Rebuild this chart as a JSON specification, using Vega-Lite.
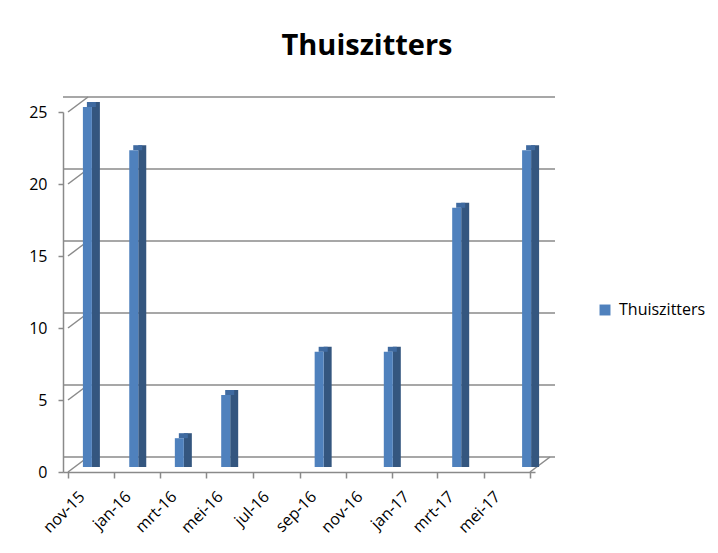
{
  "$schema": "https://vega.github.io/schema/vega-lite/v6.json",
  "width": 472,
  "height": 360,
  "autosize": {"type": "none"},
  "padding": {"left": 63, "top": 112, "right": 183, "bottom": 81},
  "background": "white",
  "config": {"view": {"stroke": null}, "font": "Open Sans"},
  "title": {
    "text": "Thuiszitters",
    "font": "Open Sans",
    "fontSize": 29,
    "fontWeight": "bold",
    "color": "#000000",
    "anchor": "middle",
    "dx": 68,
    "offset": 35
  },
  "datasets": {
    "maanden": [
      {"maand": "2015-11-16", "aantal": 25},
      {"maand": "2016-01-16", "aantal": 22},
      {"maand": "2016-03-16", "aantal": 2},
      {"maand": "2016-05-16", "aantal": 5},
      {"maand": "2016-09-16", "aantal": 8},
      {"maand": "2016-12-16", "aantal": 8},
      {"maand": "2017-03-16", "aantal": 18},
      {"maand": "2017-06-16", "aantal": 22}
    ],
    "raster": [
      {"waarde": 0}, {"waarde": 5}, {"waarde": 10},
      {"waarde": 15}, {"waarde": 20}, {"waarde": 25}
    ]
  },
  "layer": [
    {
      "data": {"name": "raster"},
      "mark": {"type": "rule", "color": "#8a8a8a", "strokeWidth": 1.5, "xOffset": 20, "yOffset": -15},
      "encoding": {
        "y": {"field": "waarde", "type": "quantitative", "title": null, "scale": {"domain": [0, 25], "nice": false}}
      }
    },
    {
      "data": {"name": "raster"},
      "mark": {"type": "rule", "color": "#8a8a8a", "strokeWidth": 1.5, "x2Offset": 20, "y2Offset": -15},
      "encoding": {
        "x": {"datum": {"year": 2015, "month": 11, "date": 1, "utc": true}, "type": "temporal", "title": null},
        "x2": {"datum": {"year": 2015, "month": 11, "date": 1, "utc": true}},
        "y": {"field": "waarde", "type": "quantitative", "title": null},
        "y2": {"field": "waarde"}
      }
    },
    {
      "data": {"name": "raster"},
      "transform": [{"filter": "datum.waarde == 0"}],
      "mark": {"type": "rule", "color": "#8a8a8a", "strokeWidth": 1.5, "x2Offset": 20, "y2Offset": -15},
      "encoding": {
        "x": {"datum": {"year": 2017, "month": 7, "date": 1, "utc": true}, "type": "temporal", "title": null},
        "x2": {"datum": {"year": 2017, "month": 7, "date": 1, "utc": true}},
        "y": {"field": "waarde", "type": "quantitative", "title": null},
        "y2": {"field": "waarde"}
      }
    },
    {
      "data": {"name": "maanden"},
      "mark": {"type": "bar", "size": 8, "color": "#34567f", "xOffset": 16.5, "yOffset": -10, "y2Offset": -5},
      "encoding": {
        "x": {"field": "maand", "type": "temporal", "title": null},
        "y": {"field": "aantal", "type": "quantitative", "title": null},
        "y2": {"datum": 0}
      }
    },
    {
      "data": {"name": "maanden"},
      "mark": {"type": "bar", "size": 9, "color": "#3f6aa0", "xOffset": 12, "yOffset": -10, "y2Offset": -5},
      "encoding": {
        "x": {"field": "maand", "type": "temporal", "title": null},
        "y": {"field": "aantal", "type": "quantitative", "title": null},
        "y2": {"field": "aantal"}
      }
    },
    {
      "data": {"name": "maanden"},
      "mark": {"type": "bar", "size": 9, "xOffset": 8, "yOffset": -5, "y2Offset": -5},
      "encoding": {
        "x": {
          "field": "maand",
          "type": "temporal",
          "title": null,
          "scale": {
            "type": "utc",
            "domain": [
              {"year": 2015, "month": 11, "date": 1, "utc": true},
              {"year": 2017, "month": 7, "date": 1, "utc": true}
            ]
          },
          "axis": {
            "title": null,
            "values": [
              {"year": 2015, "month": 11, "date": 1, "utc": true},
              {"year": 2016, "month": 1, "date": 1, "utc": true},
              {"year": 2016, "month": 3, "date": 1, "utc": true},
              {"year": 2016, "month": 5, "date": 1, "utc": true},
              {"year": 2016, "month": 7, "date": 1, "utc": true},
              {"year": 2016, "month": 9, "date": 1, "utc": true},
              {"year": 2016, "month": 11, "date": 1, "utc": true},
              {"year": 2017, "month": 1, "date": 1, "utc": true},
              {"year": 2017, "month": 3, "date": 1, "utc": true},
              {"year": 2017, "month": 5, "date": 1, "utc": true},
              {"year": 2017, "month": 7, "date": 1, "utc": true}
            ],
            "labelExpr": "(utcyear(datum.value) == 2017 && utcmonth(datum.value) == 6) ? '' : ['jan','feb','mrt','apr','mei','jun','jul','aug','sep','okt','nov','dec'][utcmonth(datum.value)] + '-' + utcFormat(datum.value, '%y')",
            "labelAngle": -45,
            "labelFontSize": 16,
            "labelColor": "#000000",
            "labelOffset": 8,
            "labelPadding": 10,
            "labelFlush": false,
            "labelOverlap": false,
            "domainColor": "#8a8a8a",
            "domainWidth": 1.5,
            "tickColor": "#8a8a8a",
            "tickWidth": 1.5,
            "tickSize": 6,
            "grid": false
          }
        },
        "y": {
          "field": "aantal",
          "type": "quantitative",
          "title": null,
          "axis": {
            "title": null,
            "values": [0, 5, 10, 15, 20, 25],
            "labelFontSize": 16,
            "labelColor": "#000000",
            "labelPadding": 11,
            "domainColor": "#8a8a8a",
            "domainWidth": 1.5,
            "tickColor": "#8a8a8a",
            "tickWidth": 1.5,
            "tickSize": 5,
            "grid": false
          }
        },
        "y2": {"datum": 0},
        "color": {
          "datum": "Thuiszitters",
          "scale": {"range": ["#4f81bd"]},
          "legend": {
            "title": null,
            "orient": "none",
            "legendX": 534,
            "legendY": 190,
            "padding": 0,
            "symbolType": "square",
            "symbolSize": 120,
            "symbolStrokeWidth": 0,
            "labelFontSize": 16,
            "labelColor": "#000000",
            "labelOffset": 6
          }
        }
      }
    }
  ]
}
